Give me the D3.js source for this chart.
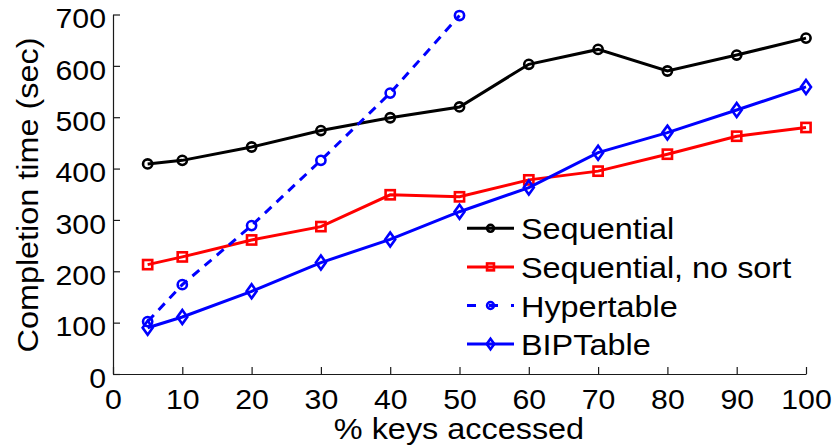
<!DOCTYPE html>
<html><head><meta charset="utf-8">
<script src="https://cdn.jsdelivr.net/npm/d3@7"></script>
<style>body{margin:0;background:#fff}svg{display:block}text{font-family:"Liberation Sans",Arial,sans-serif;fill:#000}</style>
</head><body><svg id="c" width="836" height="446"></svg>
<script>
const xs = [5,10,20,30,40,50,60,70,80,90,100];
const xsHyper = [5,10,20,30,40,50];
const sequential = [409,416,442,474,499,520,603,632,590,621,654];
const seqNoSort = [213,228,261,287,349,345,378,395,428,463,480];
const hypertable = [102,174,289,416,547,698];
const biptable = [90,111,161,217,262,316,363,431,470,514,559];
const xTicks = [0,10,20,30,40,50,60,70,80,90,100];
const yTicks = [0,100,200,300,400,500,600,700];
const seriesNames = ["Sequential","Sequential, no sort","Hypertable","BIPTable"];

const series = [
  {name:seriesNames[0], x:xs, y:sequential, color:"#000000", marker:"circle", dash:null},
  {name:seriesNames[1], x:xs, y:seqNoSort, color:"#ff0000", marker:"square", dash:null},
  {name:seriesNames[2], x:xsHyper, y:hypertable, color:"#0000ff", marker:"circle", dash:"9,7"},
  {name:seriesNames[3], x:xs, y:biptable, color:"#0000ff", marker:"diamond", dash:null}
];

const SX = 1.08; // horizontal stretch of the reference lettering
const svg = d3.select("#c");
const x = d3.scaleLinear().domain([0,100]).range([113,806]);
const y = d3.scaleLinear().domain([0,700]).range([374,14.5]);

// axes
const xAxis = svg.append("g").attr("transform","translate(0,374)")
  .call(d3.axisBottom(x).tickValues(xTicks).tickSize(-7).tickSizeOuter(0));
const yAxis = svg.append("g").attr("transform","translate(113,0)")
  .call(d3.axisLeft(y).tickValues(yTicks).tickSize(-7).tickSizeOuter(0));
[xAxis,yAxis].forEach(g=>{
  g.selectAll("path,line").attr("stroke","#1a1a1a").attr("stroke-width",1.2);
  g.selectAll("text").style("font-size","28px").style("font-family","'Liberation Sans',Arial,sans-serif").attr("fill","#000");
});
xAxis.selectAll("text").attr("x",0).attr("y",0).attr("dy",0)
  .attr("transform",`translate(0,35.3) scale(${SX},1)`);
yAxis.selectAll("text").attr("x",0).attr("y",0).attr("dy",0)
  .attr("transform",`translate(-7,13.3) scale(${SX},1)`);

svg.append("text").attr("transform",`translate(459,439.3) scale(${SX},1)`).attr("text-anchor","middle")
  .style("font-size","30px").text("% keys accessed");
svg.append("text").attr("transform",`translate(38,195) rotate(-90) scale(${SX},1)`).attr("text-anchor","middle")
  .style("font-size","30px").text("Completion time (sec)");

function drawMarker(g, type, cx, cy, color, s){
  if(type==="circle"){
    g.append("circle").attr("cx",cx).attr("cy",cy).attr("r",4.6*s)
     .attr("fill","none").attr("stroke",color).attr("stroke-width",2.6);
  } else if(type==="square"){
    g.append("rect").attr("x",cx-4.6*s).attr("y",cy-4.6*s).attr("width",9.2*s).attr("height",9.2*s)
     .attr("fill","none").attr("stroke",color).attr("stroke-width",2.6);
  } else {
    const w=5*s,h=7*s;
    g.append("path").attr("d",`M${cx},${cy-h}L${cx+w},${cy}L${cx},${cy+h}L${cx-w},${cy}Z`)
     .attr("fill","none").attr("stroke",color).attr("stroke-width",2.6);
  }
}

const line = d3.line().x(d=>x(d[0])).y(d=>y(d[1]));
series.forEach(s=>{
  const pts = s.x.map((v,i)=>[v,s.y[i]]);
  const g = svg.append("g");
  g.append("path").attr("d",line(pts)).attr("fill","none").attr("stroke",s.color)
   .attr("stroke-width",3).attr("stroke-dasharray",s.dash);
  pts.forEach(p=>drawMarker(g,s.marker,x(p[0]),y(p[1]),s.color,1));
});

// legend
const leg = svg.append("g");
const legY0 = 228.3, legDy = 38.6;
series.forEach((s,i)=>{
  const ly = legY0 + i*legDy;
  leg.append("line").attr("x1",467).attr("x2",514).attr("y1",ly).attr("y2",ly)
    .attr("stroke",s.color).attr("stroke-width",3).attr("stroke-dasharray",s.dash?"9,13":null);
  drawMarker(leg,s.marker,490.5,ly,s.color,0.75);
  leg.append("text").attr("transform",`translate(521,${ly+11}) scale(${SX},1)`)
    .style("font-size","30px").text(s.name);
});
</script></body></html>
